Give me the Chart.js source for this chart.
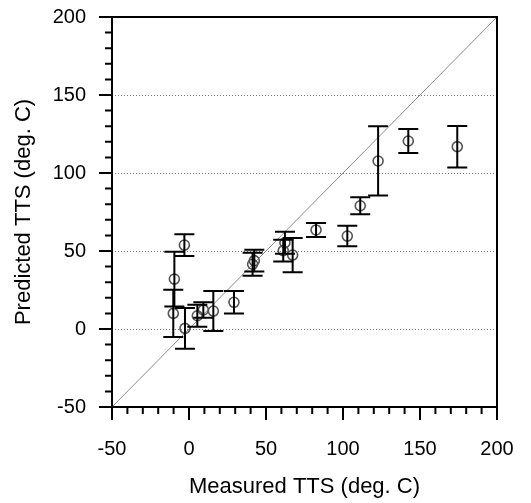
<!DOCTYPE html>
<html>
<head>
<meta charset="utf-8">
<script src="https://cdn.jsdelivr.net/npm/chart.js@4"></script>
<style>
html,body{margin:0;padding:0;background:#fff;}
#wrap{width:531px;height:503px;}
</style>
</head>
<body>
<div id="wrap"><canvas id="c" width="531" height="503"></canvas></div>
<script>
// Data
const measured  = [-3, -9.5, -10.2, -2.6, 5.4, 9.3, 15.8, 29.2, 41.3, 42.4, 62.3, 61.2, 67.3, 82.5, 102.8, 111.2, 122.8, 142.4, 174.2];
const predicted = [53.8, 32, 10, 0.4, 8.5, 12.2, 11.5, 17.1, 41.5, 43.8, 55.3, 50.2, 47.4, 63.5, 59.6, 79, 107.7, 120.5, 116.9];
const errHalf   = [7, 17.5, 15.2, 13, 7, 5, 12.8, 7.2, 7.3, 7, 7, 7, 11, 4.5, 6.6, 5.5, 22.2, 7.7, 13.3];
const xTicks = [-50, 0, 50, 100, 150, 200];
const yTicks = [-50, 0, 50, 100, 150, 200];
const gridY = [0, 50, 100, 150];
const minorStep = 10;
const axisMin = -50, axisMax = 200;
const xTitle = 'Measured TTS (deg. C)';
const yTitle = 'Predicted TTS (deg. C)';

const points = measured.map((m, i) => ({x: m, y: predicted[i]}));
const diag = [{x: axisMin, y: axisMin}, {x: axisMax, y: axisMax}];

const FONT = '"Liberation Sans", Arial, sans-serif';

const decor = {
  id: 'decor',
  beforeDatasetsDraw(chart) {
    const {ctx, chartArea: a, scales: {x, y}} = chart;
    ctx.save();
    ctx.strokeStyle = '#7a7a7a';
    ctx.lineWidth = 1;
    ctx.setLineDash([1, 2]);
    gridY.forEach(v => {
      const py = Math.round(y.getPixelForValue(v)) + 0.5;
      ctx.beginPath(); ctx.moveTo(a.left, py); ctx.lineTo(a.right, py); ctx.stroke();
    });
    ctx.restore();
  },
  afterDatasetsDraw(chart) {
    const {ctx, chartArea: a, scales: {x, y}} = chart;
    ctx.save();
    ctx.strokeStyle = '#000';
    ctx.lineWidth = 2;
    const cap = 10;
    measured.forEach((m, i) => {
      const px = x.getPixelForValue(m);
      const t = y.getPixelForValue(predicted[i] + errHalf[i]);
      const b = y.getPixelForValue(predicted[i] - errHalf[i]);
      ctx.beginPath();
      ctx.moveTo(px, t); ctx.lineTo(px, b);
      ctx.moveTo(px - cap, t); ctx.lineTo(px + cap, t);
      ctx.moveTo(px - cap, b); ctx.lineTo(px + cap, b);
      ctx.stroke();
    });
    ctx.restore();
  },
  afterDraw(chart) {
    const {ctx, chartArea: a, scales: {x, y}} = chart;
    ctx.save();
    ctx.strokeStyle = '#000';
    ctx.lineWidth = 2;
    ctx.strokeRect(a.left, a.top, a.right - a.left, a.bottom - a.top);
    ctx.beginPath();
    for (let v = axisMin; v <= axisMax; v += minorStep) {
      const major = (v % 50 === 0);
      const len = major ? 13 : 7;
      const px = x.getPixelForValue(v);
      ctx.moveTo(px, a.bottom); ctx.lineTo(px, a.bottom + len);
      const py = y.getPixelForValue(v);
      ctx.moveTo(a.left, py); ctx.lineTo(a.left - len, py);
    }
    ctx.stroke();
    ctx.restore();
  }
};

new Chart(document.getElementById('c'), {
  type: 'scatter',
  data: {
    datasets: [
      {
        type: 'line',
        data: diag,
        borderColor: '#8c8c8c',
        borderWidth: 1,
        pointRadius: 0,
        fill: false,
        order: 2
      },
      {
        data: points,
        pointStyle: 'circle',
        pointRadius: 5,
        pointHoverRadius: 5,
        borderColor: '#555',
        borderWidth: 1.6,
        backgroundColor: 'rgba(0,0,0,0)',
        order: 1
      }
    ]
  },
  options: {
    responsive: false,
    animation: false,
    devicePixelRatio: 1,
    layout: {padding: {top: 17, right: 34, left: 0, bottom: 0}},
    plugins: {legend: {display: false}, tooltip: {enabled: false}},
    scales: {
      x: {
        type: 'linear', min: axisMin, max: axisMax,
        afterBuildTicks: s => { s.ticks = xTicks.map(v => ({value: v})); },
        afterFit: s => { s.height = 96; s.paddingLeft = 0; s.paddingRight = 0; },
        grid: {display: false, drawTicks: false},
        border: {display: false},
        ticks: {padding: 30, color: '#000', font: {family: FONT, size: 20}, maxRotation: 0},
        title: {display: true, text: xTitle, color: '#000', font: {family: FONT, size: 22}, padding: {top: 0, bottom: 3}}
      },
      y: {
        type: 'linear', min: axisMin, max: axisMax,
        afterBuildTicks: s => { s.ticks = yTicks.map(v => ({value: v})); },
        afterFit: s => { s.width = 112; s.paddingTop = 0; s.paddingBottom = 0; },
        grid: {display: false, drawTicks: false},
        border: {display: false},
        ticks: {padding: 26, color: '#000', font: {family: FONT, size: 20}},
        title: {display: true, text: yTitle, color: '#000', font: {family: FONT, size: 22}, padding: {top: 11, bottom: 0}}
      }
    }
  },
  plugins: [decor]
});
</script>
</body>
</html>
